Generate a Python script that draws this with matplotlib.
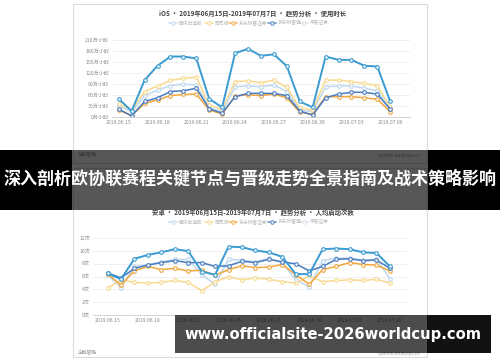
import matplotlib.pyplot as plt
from matplotlib.patches import Rectangle

plt.rcParams['font.family'] = ['Noto Sans CJK SC', 'DejaVu Sans']

# fechas del eje x (22 días)
dias = ['2019.06.15', '2019.06.16', '2019.06.17', '2019.06.18', '2019.06.19', '2019.06.20',
        '2019.06.21', '2019.06.22', '2019.06.23', '2019.06.24', '2019.06.25', '2019.06.26',
        '2019.06.27', '2019.06.28', '2019.06.29', '2019.06.30', '2019.07.01', '2019.07.02',
        '2019.07.03', '2019.07.04', '2019.07.05', '2019.07.06']
etiquetas_x = dias[::3]

leyenda = ['腾讯自选股', '同花顺', '东方财富证券', '涨乐财富通', '平安证券']

# iOS - uso (万小时)
ios_ticks = [0, 30, 60, 90, 120, 150, 180, 210]
ios_a = [50, 17, 101, 140, 165, 165, 160, 50, 27, 174, 186, 167, 171, 139, 43, 27, 165, 156, 156, 140, 138, 43]
ios_b = [36, 20, 70, 85, 100, 106, 109, 33, 22, 97, 99, 94, 101, 81, 26, 20, 101, 101, 97, 92, 86, 27]
ios_c = [31, 15, 59, 74, 86, 90, 88, 27, 15, 83, 85, 83, 88, 70, 20, 15, 83, 85, 85, 79, 72, 22]
ios_d = [22, 4, 43, 53, 70, 72, 79, 23, 11, 56, 65, 65, 65, 59, 17, 6, 53, 63, 68, 68, 63, 22]
ios_e = [20, 4, 38, 47, 59, 62, 63, 20, 9, 58, 61, 59, 63, 53, 14, 8, 56, 56, 56, 53, 49, 15]

# Android - arranques por persona (次)
and_ticks = [0, 2, 4, 6, 8, 10, 12]
and_a = [6.5, 5.6, 8.8, 9.4, 9.8, 10.3, 10.0, 6.8, 6.3, 10.7, 10.6, 10.1, 9.8, 9.1, 6.4, 6.4, 10.3, 10.4, 10.3, 9.8, 9.7, 7.6]
and_b = [4.2, 5.5, 5.1, 5.0, 5.1, 5.4, 5.1, 3.8, 5.2, 6.0, 5.5, 5.8, 5.6, 5.2, 5.0, 6.1, 5.2, 5.4, 5.5, 5.4, 5.6, 5.0]
and_c = [6.3, 4.3, 7.6, 7.9, 8.3, 8.7, 8.7, 6.3, 4.8, 8.7, 8.6, 8.3, 8.9, 8.2, 5.5, 4.4, 8.5, 8.9, 8.9, 8.6, 8.7, 5.7]
and_d = [6.6, 5.8, 7.3, 7.8, 8.2, 8.5, 8.2, 8.2, 7.6, 7.7, 8.4, 8.2, 8.7, 8.3, 8.0, 6.9, 7.6, 8.7, 8.8, 8.5, 8.6, 7.3]
and_e = [6.4, 4.7, 6.9, 7.6, 7.1, 7.3, 6.9, 7.0, 6.2, 7.1, 7.7, 7.4, 7.5, 7.9, 6.3, 4.8, 7.1, 7.6, 8.2, 7.9, 7.8, 6.9]

colores = {'a': '#3a9bd2', 'b': '#f8d98e', 'c': '#bdd8ef', 'd': '#4a7cbf', 'e': '#f0a63c'}
gris = '#8a8a8a'

fig = plt.figure(figsize=(5, 3.62), dpi=100)

# fondo en coordenadas de pixel
fondo = fig.add_axes([0, 0, 1, 1], label='fondo')
fondo.set_xlim(0, 500)
fondo.set_ylim(362, 0)
fondo.axis('off')
for y0, y1 in [(4, 163), (168, 357)]:
    fondo.add_patch(Rectangle((73, y0), 354, y1 - y0, facecolor='white', edgecolor='#dcdcdc', lw=0.8))


def leyenda_fila(y, nombres):
    xs = [173, 209, 233, 272, 304]
    cols = [colores['c'], colores['b'], colores['e'], colores['d'], '#d9dcec']
    for x, n, c in zip(xs, nombres, cols):
        fondo.plot([x - 4, x + 4], [y, y], color=c, lw=1.2, alpha=0.7)
        fondo.plot(x, y, 'o', ms=2.5, mfc='white', mec=c, mew=0.8, alpha=0.8)
        fondo.text(x + 6, y, n, fontsize=3.4, color='#bbbbbb', va='center', ha='left')


fondo.text(253, 13, 'iOS • 2019年06月15日-2019年07月7日 • 趋势分析 • 使用时长',
           fontsize=4.6, color='#444444', ha='center', va='center', fontweight='bold')
leyenda_fila(23, leyenda)
fondo.text(253, 212, '安卓 • 2019年06月15日-2019年07月7日 • 趋势分析 • 人均启动次数',
           fontsize=4.6, color='#444444', ha='center', va='center', fontweight='bold')
leyenda_fila(222, leyenda)
for yf in [155, 353]:
    fondo.text(78, yf, '企鹅智酷', fontsize=3.4, color='#999999', va='center')
    fondo.text(421, yf, 'qianfan.analysys.cn', fontsize=3.4, color='#999999', va='center', ha='right')


def grafico(rect, xlim, ylim, ticks, sufijo, series):
    ax = fig.add_axes(rect)
    ax.set_facecolor('none')
    ax.set_xlim(*xlim)
    ax.set_ylim(*ylim)
    for t in ticks:
        ax.axhline(t, color='#eeeeee', lw=0.6, zorder=0)
    for s in ['top', 'right', 'left']:
        ax.spines[s].set_visible(False)
    ax.spines['bottom'].set_color('#cccccc')
    ax.spines['bottom'].set_linewidth(0.6)
    ax.set_yticks(ticks)
    ax.set_yticklabels([f'{t}{sufijo}' for t in ticks])
    ax.set_xticks(range(0, len(dias), 3))
    ax.set_xticklabels(etiquetas_x)
    ax.tick_params(axis='both', length=0, labelsize=3.7, colors=gris, pad=2)
    x = range(len(dias))
    for clave, vals, lw in series:
        ax.plot(x, vals, color=colores[clave], lw=lw, marker='o', ms=2.6,
                mfc='white', mec=colores[clave], mew=0.8)
    return ax


grafico([112 / 500, 1 - 117.3 / 362, 298 / 500, 77.3 / 362], (-0.52, 22.53), (0, 210),
        ios_ticks, '万小时',
        [('c', ios_c, 1.1), ('b', ios_b, 1.1), ('e', ios_e, 1.1), ('d', ios_d, 1.1), ('a', ios_a, 1.4)])
grafico([93 / 500, 1 - 315 / 362, 314 / 500, 76.7 / 362], (-1.08, 22.27), (0, 12),
        and_ticks, '次',
        [('c', and_c, 1.1), ('b', and_b, 1.1), ('e', and_e, 1.1), ('d', and_d, 1.1), ('a', and_a, 1.4)])

# capa superior: franja negra y marca de agua
capa = fig.add_axes([0, 0, 1, 1], label='capa')
capa.set_facecolor('none')
capa.set_xlim(0, 500)
capa.set_ylim(362, 0)
capa.axis('off')
capa.add_patch(Rectangle((0, 150), 72, 60, facecolor='black', lw=0))
capa.add_patch(Rectangle((428, 150), 72, 60, facecolor='black', lw=0))
capa.add_patch(Rectangle((72, 150), 356, 60, facecolor='black', alpha=0.66, lw=0))
capa.text(250, 179, '深入剖析欧协联赛程关键节点与晋级走势全景指南及战术策略影响',
          fontsize=12.25, color='white', fontweight='bold', ha='center', va='center')

capa.add_patch(Rectangle((175, 315), 252, 38, facecolor='black', alpha=0.7, lw=0))
capa.add_patch(Rectangle((427, 315), 64, 38, facecolor='black', alpha=0.93, lw=0))
capa.text(332.5, 335, 'www.officialsite-2026worldcup.com', family='DejaVu Sans',
          fontsize=10.6, color='white', fontweight='bold', ha='center', va='center')

fig.savefig('out.png', dpi=100)
